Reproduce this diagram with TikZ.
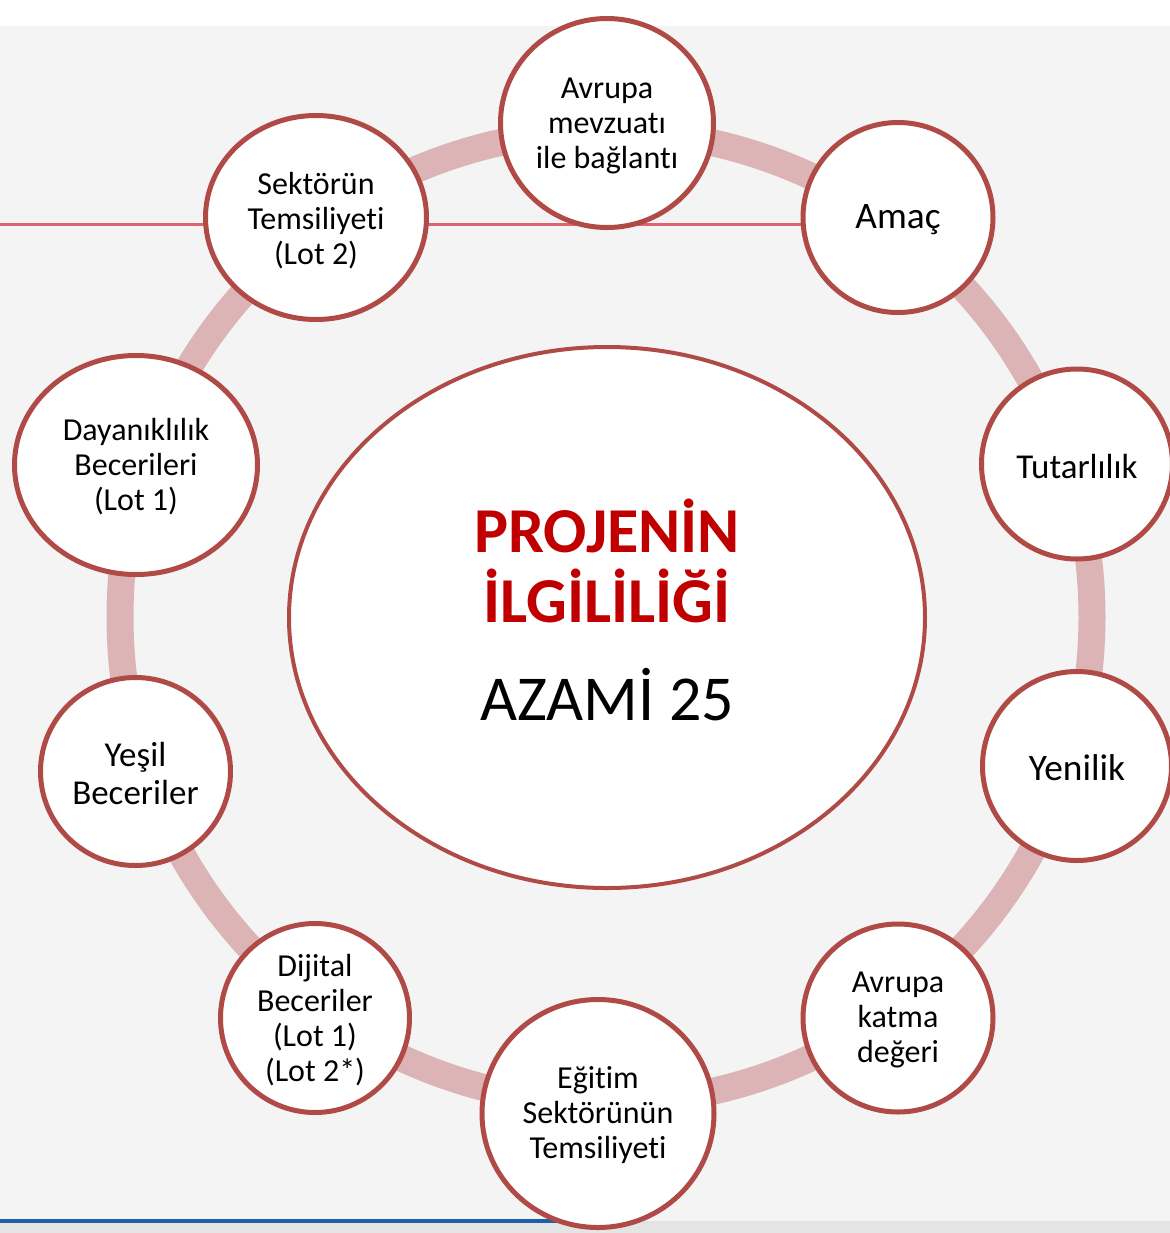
\documentclass[tikz,border=0pt]{standalone}
\usepackage{fontspec}
\setmainfont{Carlito}[Ligatures=NoCommon]
\usetikzlibrary{shapes.geometric,backgrounds}
\definecolor{bggray}{RGB}{244,244,244}
\definecolor{bandgray}{RGB}{228,228,228}
\definecolor{circ}{RGB}{176,74,71}
\definecolor{ringc}{RGB}{220,180,181}
\definecolor{redline}{RGB}{224,100,112}
\definecolor{titlered}{RGB}{192,0,0}
\definecolor{blueline}{RGB}{31,95,170}
\begin{document}
\begin{tikzpicture}[x=0.75pt,y=-0.75pt,
  bub/.style 2 args={ellipse,draw=circ,line width=3.75pt,fill=white,
    minimum width=#1*0.75pt,minimum height=#2*0.75pt,inner sep=0pt},
  lbl/.style={align=center,font=\fontsize{24}{26.25}\selectfont,inner sep=0pt,yshift=-1.5pt},
  lblbig/.style={align=center,font=\fontsize{28}{29}\selectfont,inner sep=0pt,yshift=-1.5pt},
  lblmid/.style={align=center,font=\fontsize{26.2}{28.5}\selectfont,inner sep=0pt,yshift=-1.5pt},
  titlefont/.style={font=\fontsize{48}{52}\selectfont,inner sep=0pt,anchor=base},
  titlebold/.style={font=\fontsize{48}{52}\selectfont\bfseries,text=titlered,inner sep=0pt,anchor=base},
  ringline/.style={draw=ringc,line width=20.25pt},
]
\useasboundingbox (0,0) rectangle (1170,1233);

% central ellipse and surrounding bubbles
\node[bub={636}{541},line width=3pt] (core) at (607,617.5) {};
\node[bub={213}{209}] (mevz)  at (607,123) {};
\node[bub={190}{190}] (amac)  at (898,217.5) {};
\node[bub={191}{190}] (tutar) at (1077,464) {};
\node[bub={189}{189}] (yeni)  at (1077,766) {};
\node[bub={190}{188}] (katma) at (898,1018) {};
\node[bub={232}{228}] (egit)  at (598,1113.5) {};
\node[bub={189}{189}] (dijit) at (315,1018) {};
\node[bub={190}{188}] (yesil) at (135.5,771.5) {};
\node[bub={243}{219}] (dayan) at (136,465) {};
\node[bub={221}{204}] (sekt)  at (316,217.5) {};

% texts
\node[titlebold] (t1) at (607,552) {PROJENİN};
\node[titlebold] (t2) at (607,622) {İLGİLİLİĞİ};
\node[titlefont] (t3) at (607,720) {AZAMİ 25};

\node[lbl] (lmevz) at (607,124) {Avrupa\\mevzuatı\\ile bağlantı};
\node[lblbig] (lamac) at (amac) {Amaç};
\node[lblmid] (ltutar) at (tutar) {Tutarlılık};
\node[lblbig] (lyeni) at (yeni) {Yenilik};
\node[lbl] (lkatma) at (katma) {Avrupa\\katma\\değeri};
\node[lbl] (legit) at (egit) {Eğitim\\Sektörünün\\Temsiliyeti};
\node[lbl] (ldijit) at (dijit) {Dijital\\Beceriler\\(Lot 1)\\(Lot 2*)};
\node[lblmid] (lyesil) at (yesil) {Yeşil\\Beceriler};
\node[lbl] (ldayan) at (dayan) {Dayanıklılık\\Becerileri\\(Lot 1)};
\node[lbl] (lsekt) at (316,219) {Sektörün\\Temsiliyeti\\(Lot 2)};

\begin{pgfonlayer}{background}
  \fill[white] (0,0) rectangle (1170,1233);
  \fill[bggray] (0,26) rectangle (1170,1221);
  \fill[bandgray] (0,1221) rectangle (1170,1233);
  \coordinate (bl) at (0,1221);
  \draw[blueline,line width=2.5pt] (bl) -- (bl -| egit.center);
  \coordinate (rl) at (0,224);
  \draw[redline,line width=2.25pt] (rl) -- (rl -| amac.center);
  \coordinate (rc) at (606,617);
  \draw[ringline] (rc) circle[radius=486];
\end{pgfonlayer}
\end{tikzpicture}
\end{document}
